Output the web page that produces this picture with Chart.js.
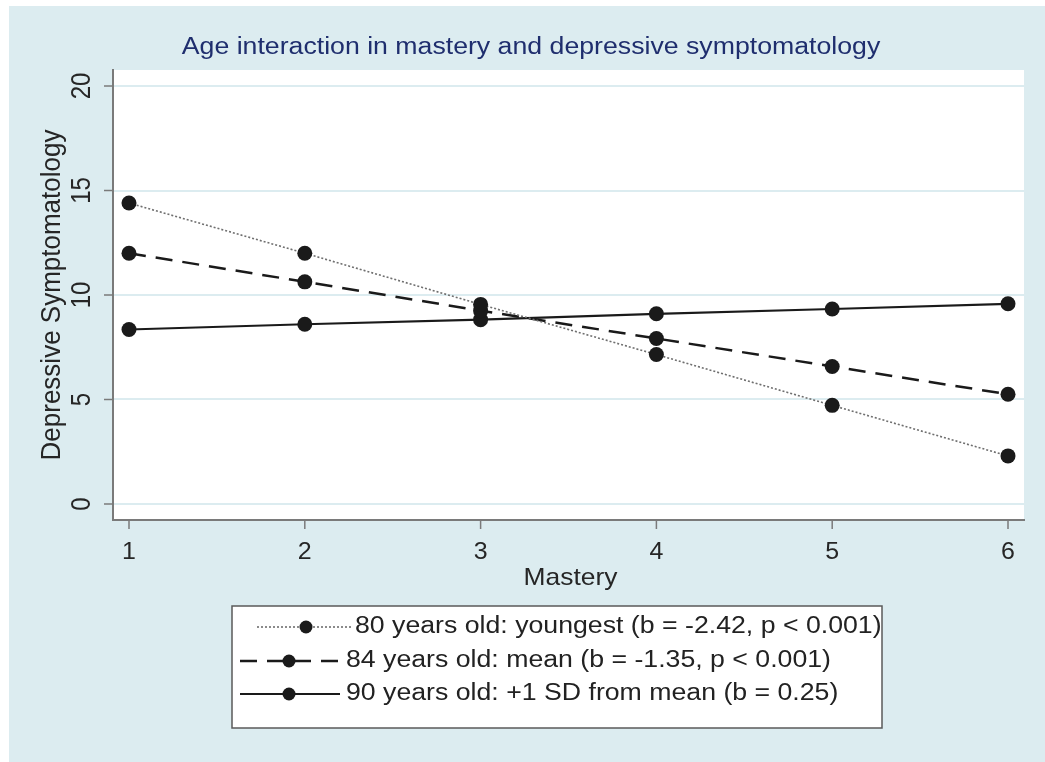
<!DOCTYPE html>
<html>
<head>
<meta charset="utf-8">
<script src="https://cdn.jsdelivr.net/npm/chart.js@4.4.1/dist/chart.umd.min.js"></script>
<style>
  body { margin: 0; background: #fff; }
  canvas { display: block; }
</style>
</head>
<body>
<canvas id="chart" width="1045" height="762"></canvas>
<script>
// data
const mastery = [1, 2, 3, 4, 5, 6];
const age80 = [14.4, 12.0, 9.55, 7.15, 4.72, 2.3];
const age84 = [12.0, 10.63, 9.25, 7.92, 6.58, 5.25];
const age90 = [8.35, 8.6, 8.82, 9.1, 9.33, 9.58];
const yTicks = [0, 5, 10, 15, 20];
const xTicks = [1, 2, 3, 4, 5, 6];
const seriesLabels = [
    '80 years old: youngest (b = -2.42, p < 0.001)',
    '84 years old: mean (b = -1.35, p < 0.001)',
    '90 years old: +1 SD from mean (b = 0.25)'
];
const chartTitle = 'Age interaction in mastery and depressive symptomatology';
const xTitle = 'Mastery';
const yTitle = 'Depressive Symptomatology';

const FONT = '"Liberation Sans", Arial, Helvetica, sans-serif';
const BG = '#dcecf0';

function pts(ys) {
    return mastery.map((x, i) => ({ x: x, y: ys[i] }));
}

// text helper: sx stretches the text horizontally on screen
function txt(ctx, s, x, y, size, color, sx, align, rot) {
    ctx.save();
    ctx.translate(x, y);
    ctx.scale(sx, 1);
    if (rot) ctx.rotate(-Math.PI / 2);
    ctx.font = size + 'px ' + FONT;
    ctx.fillStyle = color;
    ctx.textAlign = align;
    ctx.textBaseline = 'middle';
    ctx.fillText(s, 0, 0);
    ctx.restore();
}

const stataFrame = {
    id: 'stataFrame',
    beforeDraw(chart) {
        const ctx = chart.ctx, a = chart.chartArea;
        ctx.save();
        ctx.fillStyle = '#fff';
        ctx.fillRect(0, 0, chart.width, chart.height);
        ctx.fillStyle = BG;
        ctx.fillRect(9, 6, chart.width - 9, chart.height - 6);
        ctx.fillStyle = '#fff';
        ctx.fillRect(a.left, a.top, a.right - a.left, a.bottom - a.top);
        ctx.restore();
    },
    afterDraw(chart) {
        const ctx = chart.ctx, a = chart.chartArea;
        const xs = chart.scales.x, ys = chart.scales.y;
        ctx.save();
        // tick marks and labels
        ctx.strokeStyle = '#7a7a7a';
        ctx.lineWidth = 1.5;
        yTicks.forEach(v => {
            const py = ys.getPixelForValue(v);
            ctx.beginPath(); ctx.moveTo(a.left - 9, py); ctx.lineTo(a.left, py); ctx.stroke();
            txt(ctx, String(v), 83, py, 24, '#262626', 1.12, 'center', true);
        });
        xTicks.forEach(v => {
            const px = xs.getPixelForValue(v);
            ctx.beginPath(); ctx.moveTo(px, a.bottom); ctx.lineTo(px, a.bottom + 9); ctx.stroke();
            txt(ctx, String(v), px, 552, 24, '#262626', 1.04, 'center', false);
        });
        // titles
        txt(ctx, chartTitle, 531, 48, 23, '#1f2e6e', 1.16, 'center', false);
        txt(ctx, xTitle, (a.left + a.right) / 2 + 2, 578, 24, '#262626', 1.1, 'center', false);
        txt(ctx, yTitle, 53, (a.top + a.bottom) / 2, 26, '#262626', 1.04, 'center', true);

        // legend
        const box = { l: 232, t: 606, r: 882, b: 728 };
        ctx.fillStyle = '#fff';
        ctx.fillRect(box.l, box.t, box.r - box.l, box.b - box.t);
        ctx.strokeStyle = '#5a5a5a';
        ctx.lineWidth = 1.5;
        ctx.strokeRect(box.l, box.t, box.r - box.l, box.b - box.t);
        const rows = [
            { y: 627, x0: 257, x1: 353, m: 306, tx: 355 },
            { y: 661, x0: 240, x1: 340, m: 289, tx: 346 },
            { y: 694, x0: 240, x1: 340, m: 289, tx: 346 }
        ];
        chart.data.datasets.forEach((ds, i) => {
            const r = rows[i];
            ctx.save();
            ctx.strokeStyle = ds.borderColor;
            ctx.lineWidth = ds.borderWidth;
            ctx.setLineDash(ds.borderDash || []);
            ctx.beginPath(); ctx.moveTo(r.x0, r.y); ctx.lineTo(r.x1, r.y); ctx.stroke();
            ctx.restore();
            ctx.fillStyle = ds.pointBackgroundColor;
            ctx.beginPath(); ctx.arc(r.m, r.y, 6.5, 0, Math.PI * 2); ctx.fill();
            txt(ctx, ds.label, r.tx, r.y, 23, '#222', 1.16, 'left', false);
        });
        ctx.restore();
    }
};

const dot = {
    pointRadius: 7.5,
    pointHoverRadius: 7.5,
    pointBackgroundColor: '#1a1a1a',
    pointBorderColor: '#1a1a1a',
    pointBorderWidth: 0,
    fill: false,
    tension: 0
};

new Chart(document.getElementById('chart'), {
    type: 'line',
    data: {
        datasets: [
            Object.assign({ label: seriesLabels[0], data: pts(age80), borderColor: '#6f6f6f', borderWidth: 1.6, borderDash: [2, 2] }, dot),
            Object.assign({ label: seriesLabels[1], data: pts(age84), borderColor: '#1a1a1a', borderWidth: 2.5, borderDash: [17, 10] }, dot),
            Object.assign({ label: seriesLabels[2], data: pts(age90), borderColor: '#1a1a1a', borderWidth: 2.2 }, dot)
        ]
    },
    options: {
        responsive: false,
        animation: false,
        layout: { padding: { left: 113, right: 21, top: 70, bottom: 242 } },
        plugins: {
            legend: { display: false },
            title: { display: false },
            tooltip: { enabled: false }
        },
        scales: {
            x: {
                type: 'linear',
                min: 0.909,
                max: 6.091,
                afterBuildTicks: s => { s.ticks = xTicks.map(v => ({ value: v })); },
                ticks: { display: false },
                grid: { display: false, drawTicks: false },
                border: { display: true, color: '#7a7a7a', width: 2 }
            },
            y: {
                type: 'linear',
                min: -0.766,
                max: 20.766,
                afterBuildTicks: s => { s.ticks = yTicks.map(v => ({ value: v })); },
                ticks: { display: false },
                grid: { color: BG, lineWidth: 2, drawTicks: false },
                border: { display: true, color: '#7a7a7a', width: 2 }
            }
        }
    },
    plugins: [stataFrame]
});
</script>
</body>
</html>
